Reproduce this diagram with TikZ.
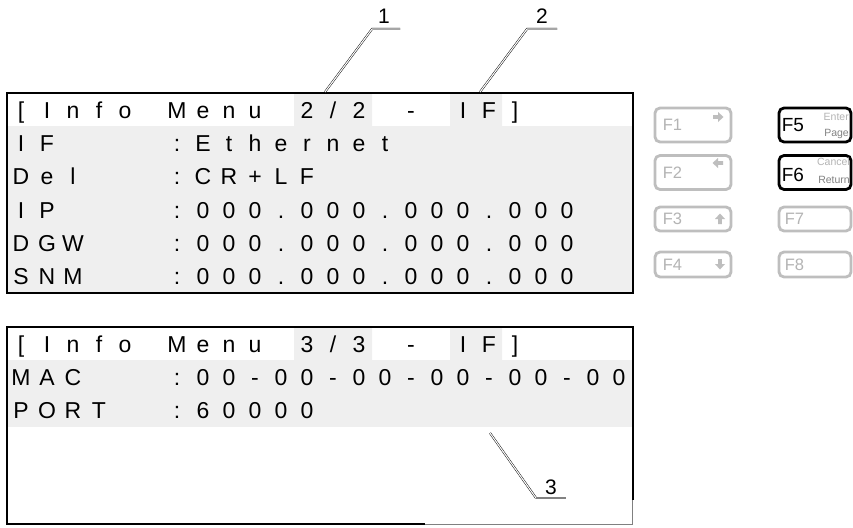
\documentclass[tikz,border=0pt]{standalone}
\usepackage{fontspec}
\setmainfont{Liberation Sans}
\usetikzlibrary{positioning}
\definecolor{lcdGray}{RGB}{239,239,239}
\definecolor{keyGray}{RGB}{190,190,190}
\definecolor{keyText}{RGB}{180,180,180}
\definecolor{tagGray}{RGB}{130,130,130}

% one line of the display: one node per character cell (26 units wide)
\newcommand{\lcdrow}[3]{%
  \foreach \ch [count=\k from 0] in {#3} {
    \node[lcdchar] (#1-\k) at ({21+26*\k}, #2) {\ch};
  }}

\tikzset{
  lcdchar/.style={anchor=base, inner sep=0pt, font=\fontsize{23}{26}\selectfont},
  frame/.style={line width=2.6pt, line join=miter},
  leader/.style={double, double distance=1.1pt, line width=0.45pt},
  callout/.style={inner sep=0pt, font=\fontsize{21}{23}\selectfont},
  softkey/.style={draw=keyGray, line width=2.8pt, rounded corners=5pt, fill=white},
  hardkey/.style={draw=black, line width=2.8pt, rounded corners=5pt, fill=white},
  keylab/.style={anchor=west, inner sep=0pt, text=keyText, font=\fontsize{16.5}{18}\selectfont},
  tiny/.style={anchor=east, inner sep=0pt, font=\fontsize{10.5}{12}\selectfont},
}

\begin{document}
\begin{tikzpicture}[x=1pt, y=-1pt]
  \useasboundingbox (0,0) rectangle (853,527);

  % upper screen (Info Menu 2/2)
  \fill[lcdGray] (8,126.3) rectangle (632,293);
  \fill[lcdGray] (294,93) rectangle (372,126.3) (450,93) rectangle (502,126.3);
  \draw[frame] (7,93) rectangle (633,293);
  \lcdrow{a0}{118}{{[},I,n,f,o,,M,e,n,u,,2,/,2,,-,,I,F,{]}}
  \lcdrow{a1}{151.3}{I,F,,,,,:,E,t,h,e,r,n,e,t}
  \lcdrow{a2}{184.7}{D,e,l,,,,:,C,R,+,L,F}
  \lcdrow{a3}{218}{I,P,,,,,:,0,0,0,.,0,0,0,.,0,0,0,.,0,0,0}
  \lcdrow{a4}{251.3}{D,G,W,,,,:,0,0,0,.,0,0,0,.,0,0,0,.,0,0,0}
  \lcdrow{a5}{284.7}{S,N,M,,,,:,0,0,0,.,0,0,0,.,0,0,0,.,0,0,0}

  % lower screen (Info Menu 3/3)
  \fill[lcdGray] (8,360.3) rectangle (632,427);
  \fill[lcdGray] (294,327) rectangle (372,360.3) (450,327) rectangle (502,360.3);
  \draw[frame] (425,524) -- (7,524) -- (7,327) -- (633,327) -- (633,500);
  \draw[gray, line width=1pt] (425,524.5) -- (632.5,524.5) -- (632.5,500);
  \lcdrow{b0}{352}{{[},I,n,f,o,,M,e,n,u,,3,/,3,,-,,I,F,{]}}
  \lcdrow{b1}{385.3}{M,A,C,,,,:,0,0,-,0,0,-,0,0,-,0,0,-,0,0,-,0,0}
  \lcdrow{b2}{418.7}{P,O,R,T,,,:,6,0,0,0,0}

  % callouts
  \node[callout] (n1) at (384,16) {1};
  \node[callout] (n2) at (542,16) {2};
  \node[callout] (n3) at (551,487) {3};
  \coordinate (s1) at (325,92);   \coordinate (k1) at (372,29);  \coordinate (e1) at (400,29);
  \coordinate (s2) at (480,92);   \coordinate (k2) at (527,29);  \coordinate (e2) at (557,29);
  \coordinate (s3) at (490,433);  \coordinate (k3) at (536,498); \coordinate (e3) at (566,498);
  \draw[leader] (s1) -- (k1) -- (e1);
  \draw[leader] (s2) -- (k2) -- (e2);
  \draw[leader] (s3) -- (k3);
  \draw[tagGray, line width=2.6pt] (k3) -- (e3);

  % soft keys F1-F4 (greyed) and F7, F8
  \foreach \n/\y/\h in {1/125/34, 2/172.5/34, 3/219/24, 4/264.5/25} {
    \node[softkey, minimum width=76pt, minimum height=\h pt] (f\n) at (693,\y) {};
    \node[keylab] (f\n-lab) at ([xshift=9pt]f\n.west) {F\n};
  }
  \foreach \n/\y/\h in {7/219/24, 8/264.5/25} {
    \node[softkey, minimum width=72pt, minimum height=\h pt] (f\n) at (815,\y) {};
    \node[keylab] (f\n-lab) at ([xshift=7pt]f\n.west) {F\n};
  }
  % little block arrows on F1-F4
  \foreach \x/\y/\ang in {718/117/0, 718/163/180, 720/219/90, 720/264/-90} {
    \fill[keyGray, shift={(\x,\y)}, rotate=\ang]
      (-5,-1.8) -- (0,-1.8) -- (0,-5) -- (5.5,0) -- (0,5) -- (0,1.8) -- (-5,1.8) -- cycle;
  }

  % active keys F5, F6
  \node[hardkey, minimum width=72pt, minimum height=34pt] (f5) at (815,125) {};
  \node[hardkey, minimum width=72pt, minimum height=34pt] (f6) at (815,172.5) {};
  \node[keylab, text=black, font=\fontsize{19}{20}\selectfont] (f5-lab) at ([xshift=4pt]f5.west) {F5};
  \node[keylab, text=black, font=\fontsize{19}{20}\selectfont] (f6-lab) at ([xshift=4pt, yshift=-2pt]f6.west) {F6};
  \node[tiny, text=keyText] (f5-up) at (849,117) {Enter};
  \node[tiny, text=tagGray] (f5-dn) at (849,134) {Page};
  \node[tiny, text=keyText] (f6-up) at (850,162) {Cancel};
  \node[tiny, text=tagGray] (f6-dn) at (850,180) {Return};
\end{tikzpicture}
\end{document}
